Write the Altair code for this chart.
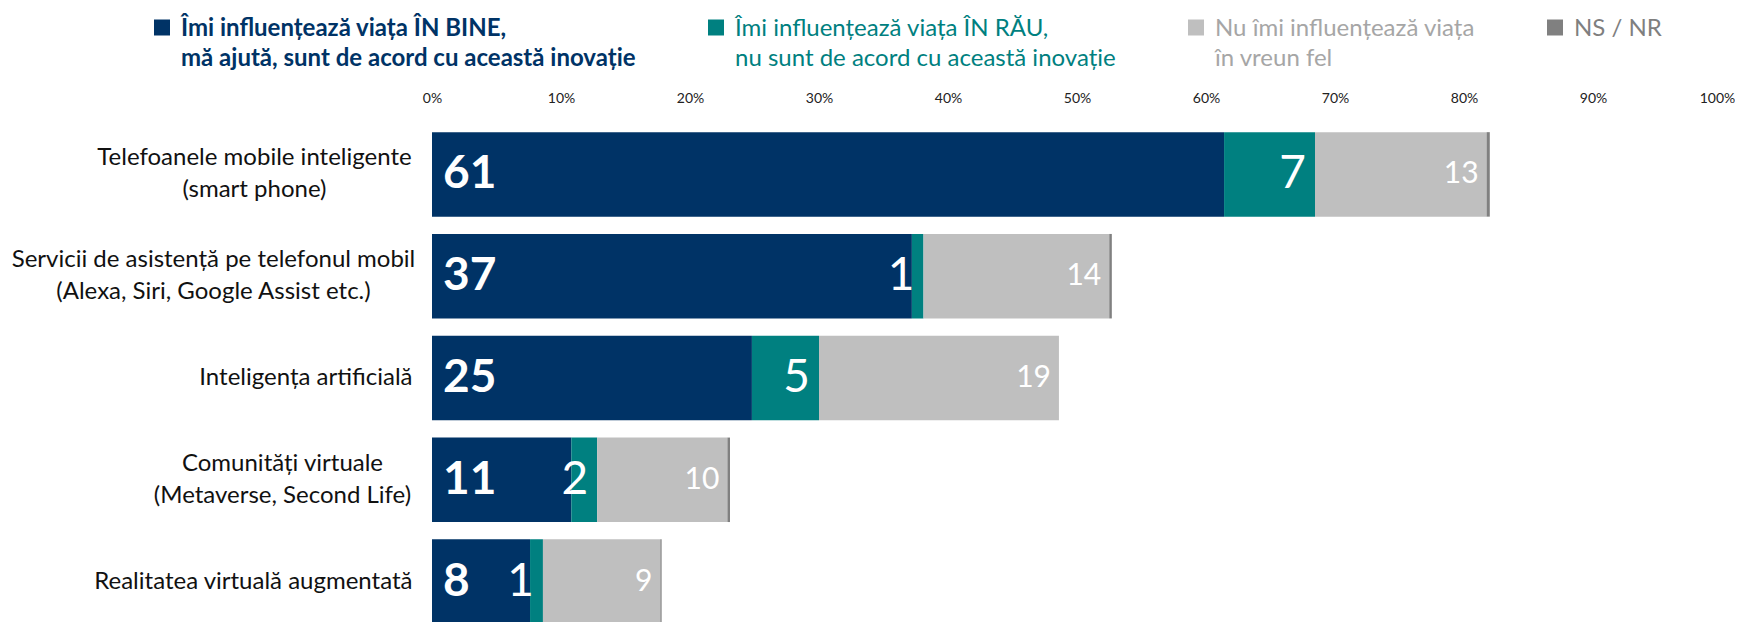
import altair as alt
import pandas as pd

categories = [
    "Telefoanele mobile inteligente\n(smart phone)",
    "Servicii de asistență pe telefonul mobil\n(Alexa, Siri, Google Assist etc.)",
    "Inteligența artificială",
    "Comunități virtuale\n(Metaverse, Second Life)",
    "Realitatea virtuală augmentată",
]
series = [
    "Îmi influențează viața ÎN BINE,\nmă ajută, sunt de acord cu această inovație",
    "Îmi influențează viața ÎN RĂU,\nnu sunt de acord cu această inovație",
    "Nu îmi influențează viața\nîn vreun fel",
    "NS / NR",
]
bine = [61.4, 37.2, 24.8, 10.8, 7.6]
rau = [7.05, 0.9, 5.2, 2.0, 1.0]
nu = [13.3, 14.4, 18.6, 10.1, 9.1]
nsnr = [0.25, 0.2, 0.0, 0.2, 0.1]
colors = ["#003366", "#008080", "#bfbfbf", "#808080"]
x_ticks = [0, 10, 20, 30, 40, 50, 60, 70, 80, 90, 100]

rows = []
for s_i, vals in enumerate([bine, rau, nu, nsnr]):
    for c_i, v in enumerate(vals):
        rows.append({"category": categories[c_i], "series": series[s_i], "order": s_i, "value": v})
df = pd.DataFrame(rows)

FONT = "Lato"

label_color_expr = (
    "indexof(datum.label, 'BINE') >= 0 ? '#003366' : "
    "indexof(datum.label, 'RĂU') >= 0 ? '#008080' : "
    "indexof(datum.label, 'vreun') >= 0 ? '#a6a6a6' : '#7f7f7f'"
)
label_weight_expr = "indexof(datum.label, 'BINE') >= 0 ? 'bold' : 'normal'"
legend_label_expr = (
    "length(split(datum.label, '\\n')) > 1 ? split(datum.label, '\\n') : [datum.label, ' ']"
)

two_line = "indexof(datum.value, '\\n') >= 0"
y_axis = alt.Axis(
    title=None, domain=False, ticks=False, tickSize=0,
    labelFont=FONT, labelFontSize=24, labelLineHeight=32, labelColor="#111111",
    labelExpr="split(datum.label, '\\n')", labelLimit=600, labelBaseline="middle",
    labelAlign={"condition": {"test": two_line, "value": "center"}, "value": "right"},
    labelOffset={"condition": {"test": two_line, "value": -16}, "value": 0},
    labelPadding={
        "condition": [
            {"test": "indexof(datum.value, 'smart') >= 0", "value": 178},
            {"test": "indexof(datum.value, 'Alexa') >= 0", "value": 219},
            {"test": "indexof(datum.value, 'Metaverse') >= 0", "value": 150},
        ],
        "value": 20,
    },
)

x_axis = alt.Axis(
    orient="top", title=None, domain=False, ticks=False, tickSize=0, grid=False,
    values=x_ticks, labelExpr="datum.value + '%'", labelFont=FONT, labelFontSize=14,
    labelColor="#222222", labelPadding=18, labelFlush=False,
    labelOffset={"condition": {"test": "datum.value == 100", "value": -5}, "value": 0},
)

base = alt.Chart(df).transform_window(
    cum="sum(value)", groupby=["category"], sort=[alt.SortField("order")], frame=[None, 0]
).transform_calculate(start="datum.cum - datum.value")

y_enc = alt.Y("category:N", sort=categories, axis=y_axis,
              scale=alt.Scale(paddingInner=0.17, paddingOuter=0.085))

bars = base.mark_bar().encode(
    y=y_enc,
    x=alt.X("start:Q", scale=alt.Scale(domain=[0, 100], nice=False), axis=x_axis),
    x2="cum:Q",
    color=alt.Color(
        "series:N",
        scale=alt.Scale(domain=series, range=colors),
        legend=alt.Legend(
            orient="none", legendX=-282, legendY=-100, direction="horizontal",
            title=None, padding=0, columnPadding=68,
            symbolType="M-1,-2H1V0H-1Z", symbolSize=256,
            symbolStrokeWidth=0, labelFont=FONT, labelFontSize=24,
            labelExpr=legend_label_expr, labelLimit=800, labelOffset=7,
            labelBaseline="alphabetic",
            labelColor={"expr": label_color_expr},
            labelFontWeight={"expr": label_weight_expr},
        ),
    ),
)

t_bine = base.transform_filter(alt.datum.order == 0).mark_text(
    align="left", baseline="middle", dx=11, font=FONT, fontSize=46, fontWeight="bold", color="white"
).encode(y=y_enc, x="start:Q", text=alt.Text("value:Q", format=".0f"))

t_rau = base.transform_filter(alt.datum.order == 1).mark_text(
    align="right", baseline="middle", dx=-9, font=FONT, fontSize=46, color="white"
).encode(y=y_enc, x="cum:Q", text=alt.Text("value:Q", format=".0f"))

t_nu = base.transform_filter(alt.datum.order == 2).mark_text(
    align="right", baseline="middle", dx=-8, font=FONT, fontSize=30, color="white"
).encode(y=y_enc, x="cum:Q", text=alt.Text("value:Q", format=".0f"))

chart = alt.layer(bars, t_bine, t_rau, t_nu).properties(
    width=1290, height=509,
    autosize=alt.AutoSizeParams(type="none"),
    padding={"left": 424, "top": 115.5, "right": 13, "bottom": 0},
).configure(
    background="white",
    view={"stroke": None},
    style={"guide-label": {"lineHeight": 30}},
)

chart.save("out.html", embed_options={"renderer": "svg", "actions": False})
